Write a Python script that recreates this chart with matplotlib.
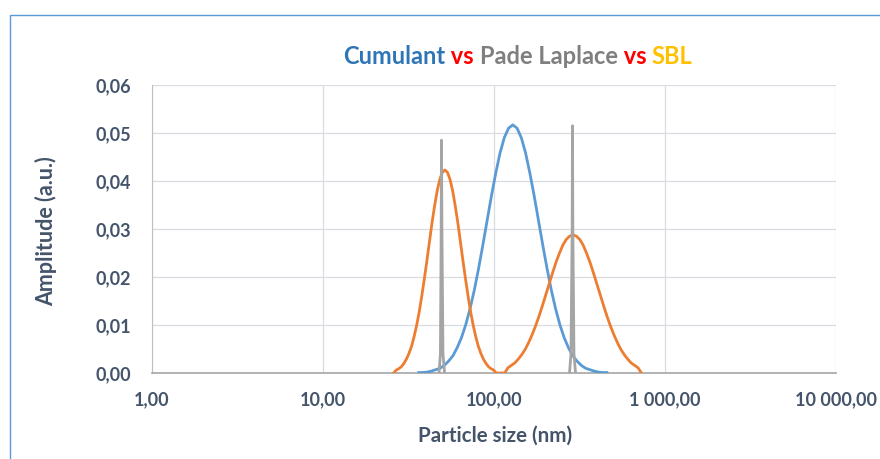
import matplotlib.pyplot as plt
import matplotlib.patches as mpatches
import numpy as np

# particle sizes (nm) and amplitudes
cumulant_size = [36.31, 38.46, 40.74, 43.15, 45.71, 48.42, 51.29, 54.33, 57.54, 60.95, 64.57,
                 68.39, 72.44, 76.74, 81.28, 86.10, 91.20, 96.61, 102.33, 108.39, 114.82, 121.62,
                 128.82, 136.46, 144.54, 153.11, 162.18, 171.79, 181.97, 192.75, 204.17, 216.27,
                 229.09, 242.66, 257.04, 272.27, 288.40, 305.49, 323.59, 342.77, 363.08, 384.59,
                 407.38, 431.52, 457.09]
cumulant_amp = [0.0001, 0.0001, 0.0002, 0.0004, 0.0007, 0.0010, 0.0016, 0.0025, 0.0036, 0.0053, 0.0074,
                0.0101, 0.0134, 0.0173, 0.0218, 0.0267, 0.0318, 0.0369, 0.0416, 0.0458, 0.0490, 0.0510,
                0.0517, 0.0510, 0.0490, 0.0458, 0.0416, 0.0369, 0.0318, 0.0267, 0.0218, 0.0173,
                0.0134, 0.0101, 0.0074, 0.0053, 0.0036, 0.0025, 0.0016, 0.0010, 0.0007, 0.0004,
                0.0002, 0.0001, 0.0001]

sbl_size = [25.88, 26.79, 27.73, 28.71, 29.72, 30.76, 31.84, 32.96, 34.12, 35.32, 36.56, 37.84,
            39.17, 40.55, 41.98, 43.45, 44.98, 46.56, 48.19, 49.89, 51.64, 53.46, 55.34, 57.28,
            59.29, 61.38, 63.53, 65.77, 68.08, 70.47, 72.94, 75.51, 78.16, 80.91, 83.75, 86.70,
            89.74, 92.90, 96.16, 99.54, 103.04,
            115.35, 120.78, 126.47, 132.43, 138.68, 145.21, 152.05, 159.22, 166.72, 174.58,
            182.81, 191.43, 200.45, 209.89, 219.79, 230.14, 240.99, 252.35, 264.24, 276.69,
            289.73, 303.39, 317.69, 332.66, 348.34, 364.75, 381.94, 399.94, 418.79, 438.53,
            459.20, 480.84, 503.50, 527.23, 552.08, 578.10, 605.34, 633.87, 663.74, 695.02, 727.78]
sbl_amp = [0.0, 0.0006, 0.0009, 0.0013, 0.0020, 0.0029, 0.0041, 0.0056, 0.0076, 0.0100, 0.0128, 0.0161,
           0.0197, 0.0235, 0.0275, 0.0314, 0.0349, 0.0380, 0.0403, 0.0418, 0.0423, 0.0418, 0.0403, 0.0380,
           0.0349, 0.0314, 0.0275, 0.0235, 0.0197, 0.0161, 0.0128, 0.0100, 0.0076, 0.0056, 0.0041, 0.0029,
           0.0020, 0.0013, 0.0009, 0.0006, 0.0,
           0.0, 0.0011, 0.0016, 0.0021, 0.0029, 0.0038, 0.0049, 0.0063, 0.0079, 0.0097,
           0.0117, 0.0139, 0.0162, 0.0185, 0.0208, 0.0230, 0.0249, 0.0266, 0.0278, 0.0285,
           0.0288, 0.0285, 0.0278, 0.0266, 0.0249, 0.0230, 0.0208, 0.0185, 0.0162, 0.0139,
           0.0117, 0.0097, 0.0079, 0.0063, 0.0049, 0.0038, 0.0029, 0.0021, 0.0016, 0.0011, 0.0]

pade_size = [47.7, 48.6, 49.1, 49.3, 49.6, 50.3, 51.4, np.nan,
             276.4, 282.0, 286.5, 287.7, 289.2, 293.5, 299.7]
pade_amp = [0.0, 0.004, 0.030, 0.0485, 0.030, 0.004, 0.0, np.nan,
            0.0, 0.004, 0.030, 0.0515, 0.030, 0.004, 0.0]

x_ticks = [1, 10, 100, 1000, 10000]
x_labels = ['1,00', '10,00', '100,00', '1 000,00', '10 000,00']
y_ticks = [0, 0.01, 0.02, 0.03, 0.04, 0.05, 0.06]
y_labels = ['0,00', '0,01', '0,02', '0,03', '0,04', '0,05', '0,06']

title_parts = [('Cumulant', '#2E75B6'), (' vs ', '#FF0000'), ('Pade Laplace', '#7F7F7F'),
               (' vs ', '#FF0000'), ('SBL', '#FFC000')]

plt.rcParams['font.family'] = ['Lato', 'DejaVu Sans']
txt = '#44546A'

fig = plt.figure(figsize=(8.8, 4.59), dpi=100)
fig.patches.append(mpatches.Rectangle((10 / 880, -0.1), 1.2, 1 - 15 / 459 + 0.1,
                                      transform=fig.transFigure, fill=False,
                                      edgecolor='#5B9BD5', lw=1))
ax = fig.add_axes([152 / 880, 1 - 373 / 459, 684 / 880, 288 / 459])

ax.plot(cumulant_size, cumulant_amp, color='#5B9BD5', lw=2, zorder=3)
ax.plot(sbl_size, sbl_amp, color='#ED7D31', lw=2, zorder=4)
ax.plot(pade_size, pade_amp, color='#A5A5A5', lw=2, zorder=5)

ax.set_xscale('log')
ax.set_xlim(1, 10000)
ax.set_ylim(0, 0.06)
ax.set_xticks(x_ticks)
ax.set_xticklabels(x_labels)
ax.xaxis.set_minor_locator(plt.NullLocator())
ax.set_yticks(y_ticks)
ax.set_yticklabels(y_labels)
ax.tick_params(length=0, labelsize=13, labelcolor=txt)
ax.tick_params(axis='x', pad=13.5)
ax.tick_params(axis='y', pad=15)
for lab in ax.get_xticklabels() + ax.get_yticklabels():
    lab.set_fontweight('bold')
ax.grid(True, color='#D9DCE3', lw=0.9)
ax.set_axisbelow(True)
for s in ['top', 'right']:
    ax.spines[s].set_visible(False)
ax.spines['left'].set_color('#BFBFBF')
ax.spines['bottom'].set_color('#A6A6A6')
ax.spines['bottom'].set_linewidth(1.2)

fig.text(495 / 880, 1 - 436 / 459, 'Particle size (nm)', ha='center', va='center',
         fontsize=14.8, fontweight='bold', color=txt)
fig.text(46 / 880, 1 - 231 / 459, 'Amplitude (a.u.)', ha='center', va='center',
         rotation=90, fontsize=15.5, fontweight='bold', color=txt)

# multi-coloured title, laid out piece by piece
fig.canvas.draw()
r = fig.canvas.get_renderer()
x = 343
for s, c in title_parts:
    t = fig.text(x / 880, 1 - 56 / 459, s, ha='left', va='center', fontsize=17,
                 fontweight='bold', color=c)
    x += t.get_window_extent(renderer=r).width

plt.savefig('out.png', dpi=100)
